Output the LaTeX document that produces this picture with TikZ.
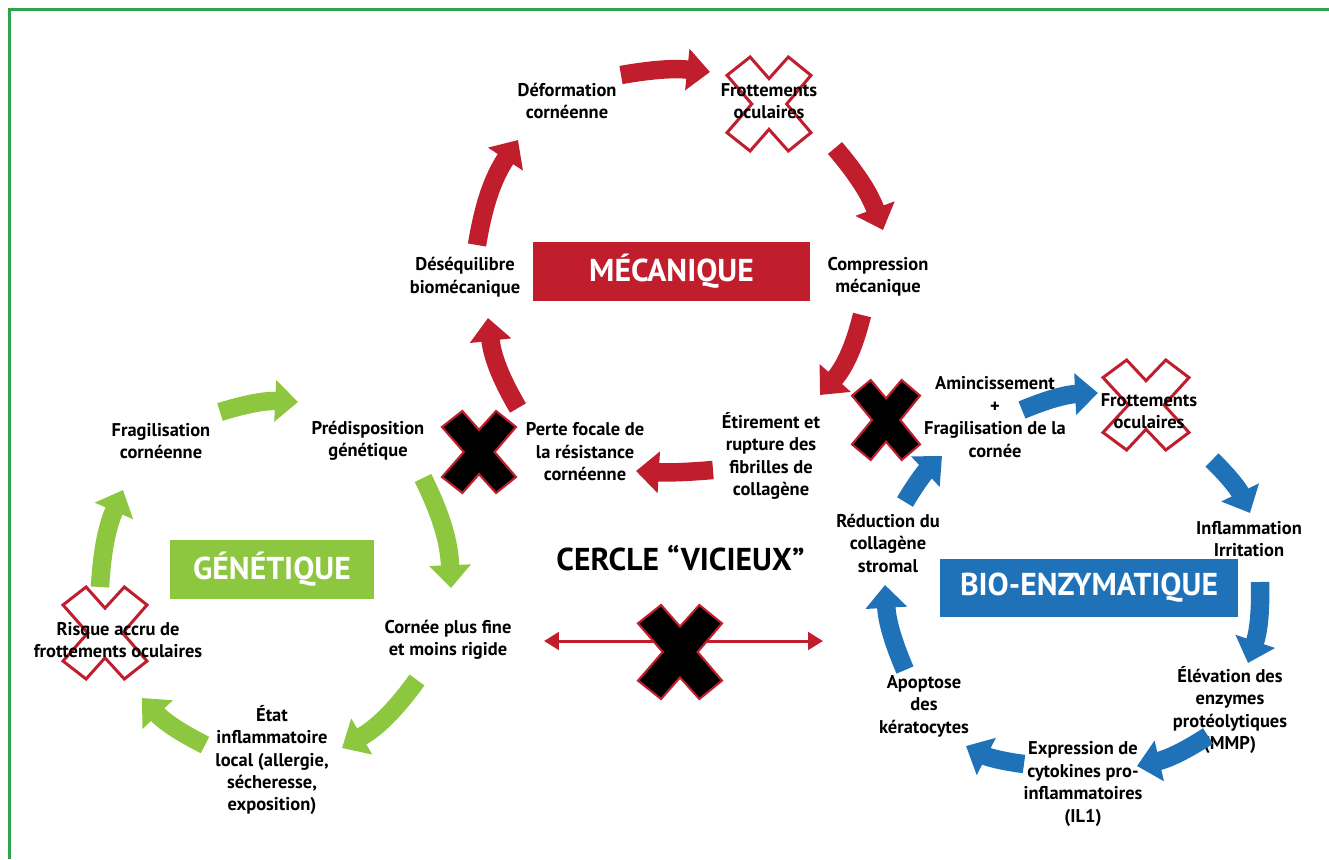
\documentclass[tikz,border=0pt]{standalone}
\usepackage{fontspec}
\setmainfont{PT Sans}
\usetikzlibrary{arrows.meta,positioning}
\definecolor{mecared}{RGB}{192,30,45}
\definecolor{genegreen}{RGB}{141,198,63}
\definecolor{bioblue}{RGB}{31,114,184}
\definecolor{framegreen}{RGB}{46,164,76}
\tikzset{
  lbl/.style={align=center,font=\fontsize{10.5}{12.8}\selectfont\bfseries,inner sep=0pt},
  titlebox/.style={text=white,font=\fontsize{18}{20}\selectfont\bfseries,minimum height=1.17cm,inner sep=0pt},
  arr/.style={line width=10.5pt,-{Triangle[length=13pt,width=23pt]}},
  darr/.style={mecared,line width=1.7pt,{Triangle[length=8.5pt,width=10pt]}-{Triangle[length=8.5pt,width=10pt]}},
  xfill/.style={fill=black,draw=mecared,line width=1.2pt},
  xopen/.style={fill=white,draw=mecared,line width=1.7pt},
  xmark/.pic={\path[#1] (-0.45,1) -- (0,0.54) -- (0.46,1) -- (1,0.61) -- (0.42,0) -- (1,-0.61)
    -- (0.46,-1) -- (0,-0.54) -- (-0.45,-1) -- (-1,-0.61) -- (-0.41,0) -- (-1,0.61) -- cycle;},
}

\begin{document}
\begin{tikzpicture}[x=0.02cm,y=0.02cm]
\useasboundingbox (0,0) rectangle (1329,-859);
\draw[framegreen,line width=1.8pt] (9.5,-859) -- (9.5,-9.5) -- (1329,-9.5);

% crosses behind the labels
\pic[xscale=42,yscale=47] at (769,-104) {xmark=xopen};
\pic[xscale=43,yscale=45] at (1146,-405) {xmark=xopen};
\pic[xscale=42,yscale=46] at (105,-633) {xmark=xopen};
\pic[xscale=37,yscale=41] at (479,-452) {xmark=xfill};
\pic[xscale=34,yscale=40] at (886,-420) {xmark=xfill};

% titles
\node[titlebox,fill=mecared,minimum width=5.54cm] (meca) at (671.5,-271.5) {MÉCANIQUE};
\node[titlebox,fill=genegreen,minimum width=4.08cm] (gene) at (272,-569.5) {GÉNÉTIQUE};
\node[titlebox,fill=bioblue,minimum width=5.96cm] (bio) at (1089,-588) {BIO-ENZYMATIQUE};
\node[font=\fontsize{18}{20}\selectfont\bfseries,inner sep=0pt] (cercle) at (680.5,-558) {CERCLE “VICIEUX”};

% mecanique cycle
\node[lbl] (deform) at (567,-101) {Déformation\\cornéenne};
\node[lbl] (frotm) at (769,-101) {Frottements\\oculaires};
\node[lbl] (compr) at (878,-277) {Compression\\mécanique};
\node[lbl] (etir) at (771,-456) {Étirement et\\rupture des\\fibrilles de\\collagène};
\node[lbl] (perte) at (585,-452) {Perte focale de\\la résistance\\cornéenne};
\node[lbl] (deseq) at (465,-277) {Déséquilibre\\biomécanique};

\coordinate (m1a) at (621,-75);  \coordinate (m1b) at (710,-72);
\coordinate (m2a) at (835,-148); \coordinate (m2b) at (883,-230);
\coordinate (m3a) at (862,-315); \coordinate (m3b) at (820,-395);
\coordinate (m4a) at (713,-470); \coordinate (m4b) at (636,-471);
\coordinate (m5a) at (518,-408); \coordinate (m5b) at (488,-318);
\coordinate (m6a) at (477,-245); \coordinate (m6b) at (518,-140);
\foreach \s/\e/\b in {m1a/m1b/8,m2a/m2b/10,m3a/m3b/14,m4a/m4b/4,m5a/m5b/12,m6a/m6b/12}
  \draw[arr,mecared] (\s) to[bend left=\b] (\e);

% genetique cycle
\node[lbl] (fragi) at (161,-441) {Fragilisation\\cornéenne};
\node[lbl] (predis) at (368,-441) {Prédisposition\\génétique};
\node[lbl] (cornee) at (448,-640) {Cornée plus fine\\et moins rigide};
\node[lbl] (etat) at (272,-760) {État\\inflammatoire\\local (allergie,\\sécheresse,\\exposition)};
\node[lbl] (risque) at (118,-640) {Risque accru de\\frottements oculaires};

\coordinate (g1a) at (220,-412); \coordinate (g1b) at (298,-402);
\coordinate (g2a) at (423,-478); \coordinate (g2b) at (451,-588);
\coordinate (g3a) at (417,-680); \coordinate (g3b) at (342,-748);
\coordinate (g4a) at (205,-745); \coordinate (g4b) at (142,-698);
\coordinate (g5a) at (100,-587); \coordinate (g5b) at (123,-490);
\foreach \s/\e/\b in {g1a/g1b/10,g2a/g2b/12,g3a/g3b/12,g4a/g4b/10,g5a/g5b/10}
  \draw[arr,genegreen] (\s) to[bend left=\b] (\e);

% bio-enzymatique cycle
\node[lbl] (amin) at (995,-417) {Amincissement\\+\\Fragilisation de la\\cornée};
\node[lbl] (frotb) at (1149,-411) {Frottements\\oculaires};
\node[lbl] (inflam) at (1249,-539) {Inflammation\\Irritation};
\node[lbl] (elev) at (1230,-710) {Élévation des\\enzymes\\protéolytiques\\(MMP)};
\node[lbl] (expr) at (1083,-784) {Expression de\\cytokines pro-\\inflammatoires\\(IL1)};
\node[lbl] (apopt) at (924,-706) {Apoptose\\des\\kératocytes};
\node[lbl] (reduc) at (888,-543) {Réduction du\\collagène\\stromal};

\coordinate (b1a) at (1022,-410); \coordinate (b1b) at (1098,-393);
\coordinate (b2a) at (1212,-460); \coordinate (b2b) at (1250,-513);
\coordinate (b3a) at (1260,-582); \coordinate (b3b) at (1248,-663);
\coordinate (b4a) at (1208,-736); \coordinate (b4b) at (1137,-766);
\coordinate (b5a) at (1024,-764); \coordinate (b5b) at (966,-746);
\coordinate (b6a) at (905,-670);  \coordinate (b6b) at (885,-585);
\coordinate (b7a) at (905,-502);  \coordinate (b7b) at (942,-456);
\foreach \s/\e/\b in {b1a/b1b/10,b2a/b2b/10,b3a/b3b/10,b4a/b4b/10,b5a/b5b/10,b6a/b6b/10,b7a/b7b/8}
  \draw[arr,bioblue] (\s) to[bend left=\b] (\e);

% link between the cycles
\coordinate (lkl) at (544,-641);
\coordinate (lkr) at (823,-641);
\draw[darr] (lkl) -- (lkr);
\pic[xscale=42,yscale=47] at (680,-652) {xmark=xfill};
\end{tikzpicture}
\end{document}
